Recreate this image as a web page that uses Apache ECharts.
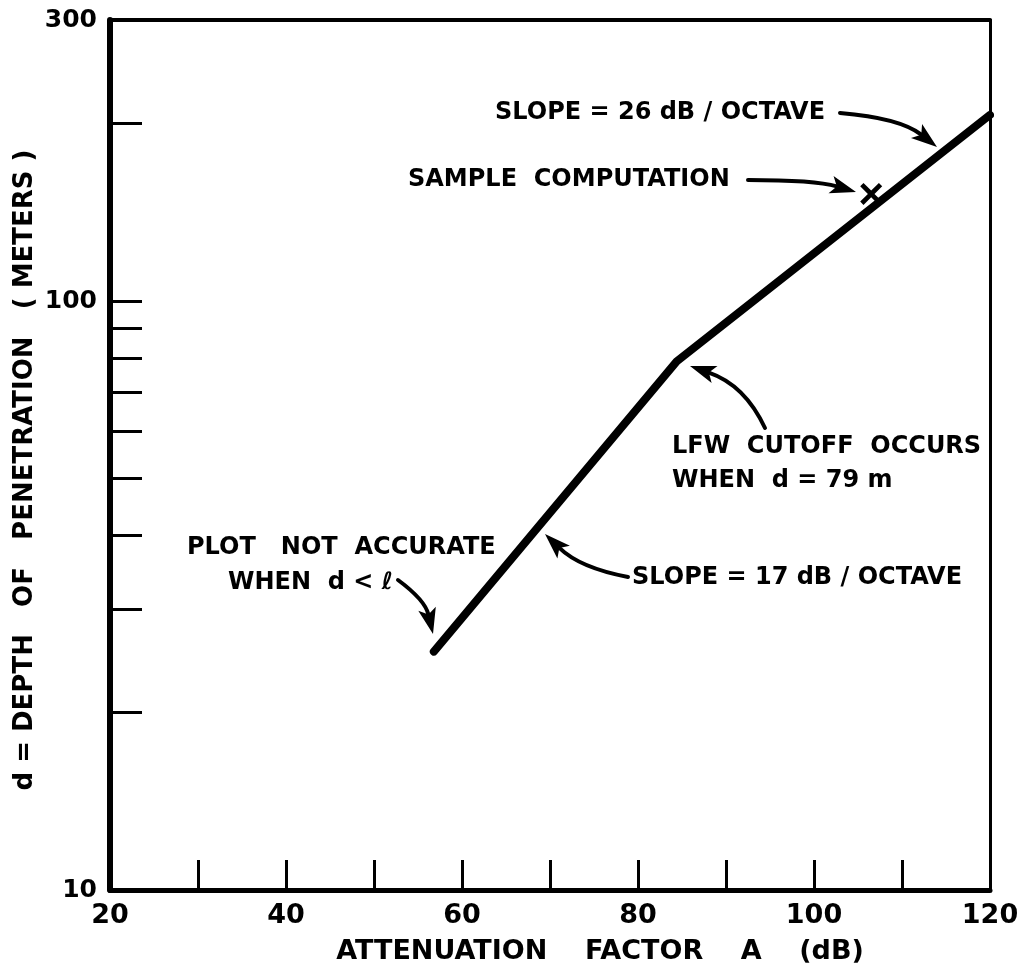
<!DOCTYPE html>
<html>
<head>
<meta charset="utf-8">
<script src="https://cdn.jsdelivr.net/npm/echarts@6/dist/echarts.min.js"></script>
<style>html,body{margin:0;padding:0;background:#fff}#c{width:1021px;height:971px}</style>
</head>
<body>
<div id="c"></div>
<script>
// ---- data ----
const attenuation = [56.8, 84.4, 120];        // A (dB)
const depth = [25.4, 79, 207];                // d (m)
const sampleA = [106.5];
const sampleD = [152];
const xTickVals = [30, 40, 50, 60, 70, 80, 90, 100, 110];
const xLabelVals = [20, 40, 60, 80, 100, 120];
const yTickVals = [20, 30, 40, 50, 60, 70, 80, 90, 100, 200];
const yLabelVals = [10, 100, 300];

const FONT = '"DejaVu Sans", sans-serif';
const chart = echarts.init(document.getElementById('c'), null, {renderer: 'canvas'});

function arrow(x0, y0, cx, cy, x1, y1) {
  const dx = x1 - cx, dy = y1 - cy;
  const L = Math.hypot(dx, dy);
  const ux = dx / L, uy = dy / L;
  const hl = 26, hw = 9;
  const bx = x1 - ux * hl, by = y1 - uy * hl;
  return [
    {type: 'bezierCurve', shape: {x1: x0, y1: y0, cpx1: cx, cpy1: cy, x2: bx + ux * 6, y2: by + uy * 6},
     style: {stroke: '#000', lineWidth: 4, fill: null, lineCap: 'round'}, z: 10},
    {type: 'polygon', shape: {points: [[x1, y1], [bx - uy * hw, by + ux * hw], [bx + ux * 6, by + uy * 6], [bx + uy * hw, by - ux * hw]]},
     style: {fill: '#000'}, z: 10}
  ];
}
function txt(x, y, t) {
  return {type: 'text', x: x, y: y, style: {text: t, font: 'bold 24px ' + FONT, fill: '#000', verticalAlign: 'middle', align: 'left'}, z: 10};
}

const graphics = [].concat(
  txt(495, 113, 'SLOPE = 26 dB / OCTAVE'),
  arrow(840, 113, 900, 118, 937, 147),
  txt(408, 180, 'SAMPLE  COMPUTATION'),
  arrow(748, 180, 815, 180, 856, 192),
  txt(672, 447, 'LFW  CUTOFF  OCCURS'),
  txt(672, 481, 'WHEN  d = 79 m'),
  arrow(765, 428, 745, 385, 690, 366),
  txt(632, 578, 'SLOPE = 17 dB / OCTAVE'),
  arrow(628, 577, 580, 568, 545, 534),
  txt(187, 548, 'PLOT   NOT  ACCURATE'),
  txt(228, 583, 'WHEN  d < \u2113'),
  arrow(398, 580, 425, 600, 433, 634)
);

chart.setOption({
  animation: false,
  backgroundColor: '#fff',
  grid: {left: 110, right: 31, top: 20, bottom: 81, containLabel: false, outerBoundsMode: 'none'},
  xAxis: [{
    type: 'value', min: 20, max: 120, interval: 10,
    name: 'ATTENUATION    FACTOR    A    (dB)', nameLocation: 'middle', nameGap: 48,
    nameTextStyle: {fontFamily: FONT, fontWeight: 'bold', fontSize: 27, color: '#000', padding: [0, 0, 0, 100]},
    axisLine: {lineStyle: {color: '#000', width: 5}},
    axisTick: {show: true, inside: true, length: 30, customValues: xTickVals, lineStyle: {color: '#000', width: 3}},
    axisLabel: {customValues: xLabelVals, fontFamily: FONT, fontWeight: 'bold', fontSize: 27, color: '#000', margin: 12},
    splitLine: {show: false}
  }, {
    type: 'value', min: 20, max: 120, position: 'top',
    axisLine: {lineStyle: {color: '#000', width: 4}},
    axisTick: {show: false}, axisLabel: {show: false}, splitLine: {show: false}
  }],
  yAxis: [{
    type: 'log', logBase: 10, min: 10, max: 300,
    name: 'd = DEPTH   OF   PENETRATION   ( METERS )', nameLocation: 'middle', nameGap: 72, nameRotate: 90,
    nameMoveOverlap: false,
    nameTextStyle: {fontFamily: FONT, fontWeight: 'bold', fontSize: 26, color: '#000', padding: [0, 30, 0, 0]},
    axisLine: {lineStyle: {color: '#000', width: 6}},
    axisTick: {show: true, inside: true, length: 32, customValues: yTickVals, lineStyle: {color: '#000', width: 3}},
    axisLabel: {customValues: yLabelVals, fontFamily: FONT, fontWeight: 'bold', fontSize: 25, color: '#000', margin: 13},
    splitLine: {show: false}, minorTick: {show: false}
  }, {
    type: 'log', logBase: 10, min: 10, max: 300, position: 'right',
    axisLine: {show: true, lineStyle: {color: '#000', width: 3}},
    axisTick: {show: false}, axisLabel: {show: false}, splitLine: {show: false}
  }],
  series: [{
    type: 'line', xAxisIndex: 0, yAxisIndex: 0,
    data: attenuation.map((a, i) => [a, depth[i]]),
    symbol: 'none', lineStyle: {color: '#000', width: 8, cap: 'round', join: 'round'}
  }, {
    type: 'scatter', xAxisIndex: 0, yAxisIndex: 0,
    data: sampleA.map((a, i) => [a, sampleD[i]]),
    symbol: 'path://M0,3 L3,0 L10,7 L17,0 L20,3 L13,10 L20,17 L17,20 L10,13 L3,20 L0,17 L7,10 Z',
    symbolSize: 22, itemStyle: {color: '#000', opacity: 1}
  }],
  graphic: graphics
});
</script>
</body>
</html>
